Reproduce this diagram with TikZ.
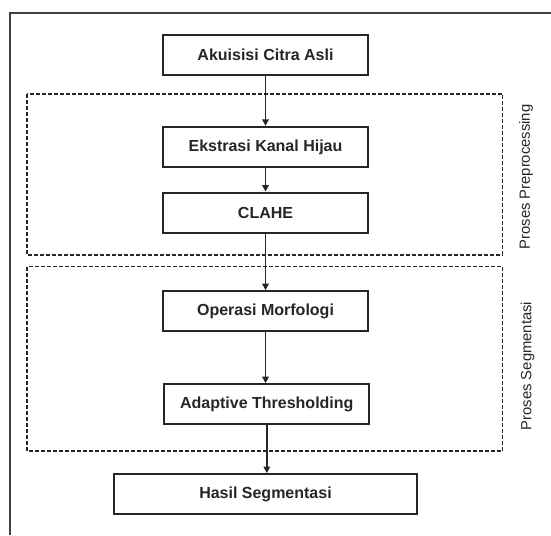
\documentclass[tikz,border=0pt]{standalone}
\usepackage{fontspec}
\setmainfont{Liberation Sans}
\usetikzlibrary{arrows.meta}
\definecolor{ink}{HTML}{262626}
\definecolor{framec}{HTML}{404040}
\tikzset{
  stepbox/.style={draw=ink, line width=2.2pt, minimum height=40pt, minimum width=205pt,
    inner sep=0pt, font=\fontsize{16}{19}\selectfont\bfseries, text=ink},
  groupbox/.style={draw=ink, line width=1.9pt, dash pattern=on 4pt off 2pt},
  flow/.style={draw=ink, line width=1.8pt, -{Triangle[length=6.5pt,width=6.5pt]}},
  sidelabel/.style={rotate=90, font=\fontsize{14.8}{17}\selectfont, text=ink, inner sep=0pt},
}
\begin{document}
\begin{tikzpicture}[x=1pt,y=-1pt]
\useasboundingbox (0,0) rectangle (551,535);
\fill[white] (0,0) rectangle (551,535);
% outer frame (top and left edges visible)
\draw[framec, line width=2pt] (9.5,535) -- (9.5,13.5) -- (551,13.5);
% group boxes
\draw[groupbox] (27.3,94) rectangle (502.5,255);
\draw[groupbox] (27.3,266.5) rectangle (502.5,451);
% nodes
\node[stepbox] (akuisisi) at (265.5,55) {Akuisisi Citra Asli};
\node[stepbox] (ekstrasi) at (265.5,147) {Ekstrasi Kanal Hijau};
\node[stepbox] (clahe) at (265.5,212.7) {CLAHE};
\node[stepbox] (operasi) at (265.5,311.3) {Operasi Morfologi};
\node[stepbox] (adaptive) at (266.8,404.3) {Adaptive Thresholding};
\node[stepbox, minimum width=303pt] (hasil) at (265.5,494.2) {Hasil Segmentasi};
% side labels
\node[sidelabel] (lblpre) at (526,177) {Proses Preprocessing};
\node[sidelabel] (lblseg) at (527.5,366) {Proses Segmentasi};
% connectors
\draw[flow] (akuisisi) -- (ekstrasi);
\draw[flow] (ekstrasi) -- (clahe);
\draw[flow] (clahe) -- (operasi);
\draw[flow] (operasi) -- (operasi |- adaptive.north);
\draw[flow] (adaptive.south) -- (adaptive.south |- hasil.north);
\end{tikzpicture}
\end{document}
